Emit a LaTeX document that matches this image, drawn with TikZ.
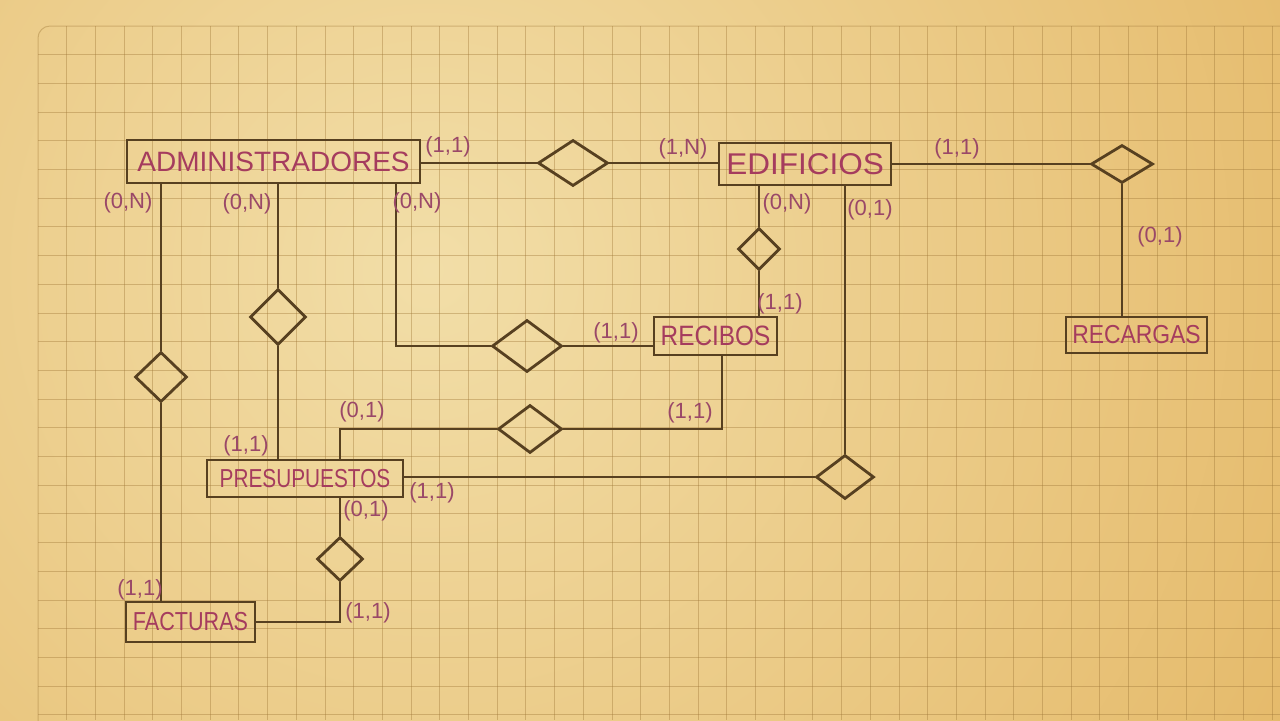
\documentclass[tikz,border=0pt]{standalone}
\usepackage{fontspec}
\setmainfont{Liberation Sans}
\usetikzlibrary{shapes.geometric,calc}
\definecolor{ink}{HTML}{574020}
\definecolor{pen}{HTML}{A53C5E}
\definecolor{lab}{HTML}{9A4868}
\definecolor{gridc}{HTML}{A07838}
\definecolor{paperin}{HTML}{F2DEA8}
\definecolor{paperout}{HTML}{DDA343}
\begin{document}
\begin{tikzpicture}[x=0.5pt,y=-0.5pt,
 ent/.style={draw=ink,line width=1.4pt,rectangle,inner sep=0pt,text=pen},
 rel/.style={draw=ink,line width=1.4pt,diamond,inner sep=0pt},
 card/.style={text=lab,font=\fontsize{11}{13}\selectfont,inner sep=0pt},
 conn/.style={draw=ink,line width=1.4pt},
 gline/.style={draw=gridc,opacity=.4,line width=.5pt}]
\useasboundingbox (0,0) rectangle (1280,720);
\fill[paperout] (0,0) rectangle (1280,720);
\begin{scope}
\clip (0,0) rectangle (1280,720);
\shade[inner color=paperin,outer color=paperout] (430,270) circle[radius=800pt];
\end{scope}
% grid
\begin{scope}
\clip (0,0) rectangle (1280,720);
\draw[gline,rounded corners=6pt] (38,740) -- (38,26) -- (1300,26);
\foreach \i in {1,...,43} \draw[gline] ({38+28.7*\i},26) -- ({38+28.7*\i},720);
\foreach \j in {1,...,24} \draw[gline] (38,{26+28.7*\j}) -- (1280,{26+28.7*\j});
\end{scope}
% entities
\node[ent,minimum width=146.5pt,minimum height=21.5pt,font=\fontsize{14}{16}\selectfont] (admin) at (273.5,161.5) {ADMINISTRADORES};
\node[ent,minimum width=86pt,minimum height=21pt,font=\fontsize{15}{17}\selectfont] (edif) at (805,164) {\scalebox{1.05}[1]{EDIFICIOS}};
\node[ent,minimum width=70.5pt,minimum height=18pt,font=\fontsize{13}{15}\selectfont] (recargas) at (1136.5,335) {\scalebox{0.88}[1]{RECARGAS}};
\node[ent,minimum width=61.5pt,minimum height=19pt,font=\fontsize{14}{16}\selectfont] (recibos) at (715.5,336) {\scalebox{0.87}[1]{RECIBOS}};
\node[ent,minimum width=98pt,minimum height=18.5pt,font=\fontsize{13}{15}\selectfont] (presup) at (305,478.5) {\scalebox{0.8}[1]{PRESUPUESTOS}};
\node[ent,minimum width=64.5pt,minimum height=20pt,font=\fontsize{13}{15}\selectfont] (facturas) at (190.5,622) {\scalebox{0.83}[1]{FACTURAS}};
% relationships
\node[rel,minimum width=35pt,minimum height=23pt] (d1) at (573,163) {};
\node[rel,minimum width=31pt,minimum height=19pt] (d2) at (1122,164) {};
\node[rel,minimum width=21pt,minimum height=21pt] (d3) at (759,249) {};
\node[rel,minimum width=35pt,minimum height=26pt] (d4) at (527,346) {};
\node[rel,minimum width=32pt,minimum height=24pt] (d5) at (530,429) {};
\node[rel,minimum width=28pt,minimum height=28pt] (d6) at (278,317) {};
\node[rel,minimum width=29pt,minimum height=22pt] (d7) at (845,477) {};
\node[rel,minimum width=26pt,minimum height=25pt] (d8) at (161,377) {};
\node[rel,minimum width=23pt,minimum height=22pt] (d9) at (340,559) {};
\coordinate (k1) at (396,0);
\coordinate (k2) at (722,0);
\coordinate (k3) at (340,0);
% connectors
\draw[conn] (admin.east |- d1) -- (d1.west);
\draw[conn] (d1.east) -- (d1.east -| edif.west);
\draw[conn] (edif.east |- d2) -- (d2.west);
\draw[conn] (d2.south) -- (d2.south |- recargas.north);
\draw[conn] (d3.north |- edif.south) -- (d3.north);
\draw[conn] (d3.south) -- (d3.south |- recibos.north);
\draw[conn] (d7.north |- edif.south) -- (d7.north);
\draw[conn] (d4.east) -- (d4.east -| recibos.west);
\draw[conn] (d4.west) -| (k1 |- admin.south);
\draw[conn] (k2 |- recibos.south) |- (d5.east);
\draw[conn] (d5.west) -| (k3 |- presup.north);
\draw[conn] (d6.north |- admin.south) -- (d6.north);
\draw[conn] (d6.south) -- (d6.south |- presup.north);
\draw[conn] (presup.east |- d7) -- (d7.west);
\draw[conn] (d8.north |- admin.south) -- (d8.north);
\draw[conn] (d8.south) -- (d8.south |- facturas.north);
\draw[conn] (facturas.east) -| (d9.south);
\draw[conn] (d9.north) -- (d9.north |- presup.south);
% cardinalities
\node[card] (c1) at (448,147) {(1,1)};
\node[card] (c2) at (683,149) {(1,N)};
\node[card] (c3) at (957,149) {(1,1)};
\node[card] (c4) at (1160,237) {(0,1)};
\node[card] (c5) at (787,204) {(0,N)};
\node[card] (c6) at (870,210) {(0,1)};
\node[card] (c7) at (780,304) {(1,1)};
\node[card] (c8) at (616,333) {(1,1)};
\node[card] (c9) at (417,203) {(0,N)};
\node[card] (c10) at (690,413) {(1,1)};
\node[card] (c11) at (362,412) {(0,1)};
\node[card] (c12) at (247,204) {(0,N)};
\node[card] (c13) at (246,446) {(1,1)};
\node[card] (c14) at (432,493) {(1,1)};
\node[card] (c15) at (128,203) {(0,N)};
\node[card] (c16) at (140,590) {(1,1)};
\node[card] (c17) at (368,613) {(1,1)};
\node[card] (c18) at (366,511) {(0,1)};
\end{tikzpicture}
\end{document}
